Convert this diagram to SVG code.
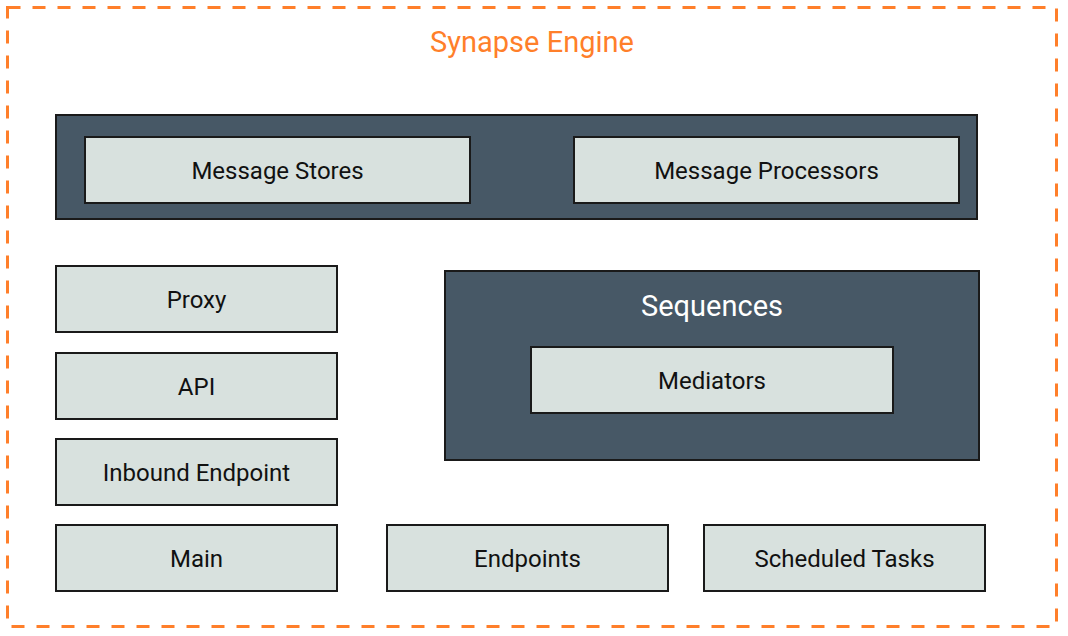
<svg xmlns="http://www.w3.org/2000/svg" width="1068" height="636" viewBox="0 0 1068 636">
<style>
.dark{fill:#475866;stroke:#1a1a1a;stroke-width:2}
.box{fill:#d8e1de;stroke:#1a1a1a;stroke-width:2}
.t{font-family:Roboto,"Liberation Sans",sans-serif;font-size:24px;fill:#111;text-anchor:middle;dominant-baseline:central}
.w{font-family:Roboto,"Liberation Sans",sans-serif;font-size:29px;fill:#fff;text-anchor:middle;dominant-baseline:central}
</style>
<rect width="1068" height="636" fill="#fff"/>
<g id="engine">
<rect x="7.5" y="7.5" width="1049" height="619" fill="none" stroke="#ff7f2a" stroke-width="3" stroke-dasharray="13,12"/>
<text x="532" y="42" font-family="Roboto,'Liberation Sans',sans-serif" font-size="29" fill="#ff7f2a" text-anchor="middle" dominant-baseline="central">Synapse Engine</text>
</g>
<g id="messaging">
<rect class="dark" x="56" y="115" width="921" height="104"/>
</g>
<g id="message-stores"><rect class="box" x="85" y="137" width="385" height="66"/><text class="t" x="277.5" y="171">Message Stores</text></g>
<g id="message-processors"><rect class="box" x="574" y="137" width="385" height="66"/><text class="t" x="766.5" y="171">Message Processors</text></g>
<g id="proxy"><rect class="box" x="56" y="266" width="281" height="66"/><text class="t" x="196.5" y="300">Proxy</text></g>
<g id="api"><rect class="box" x="56" y="353" width="281" height="66"/><text class="t" x="196.5" y="387">API</text></g>
<g id="inbound"><rect class="box" x="56" y="439" width="281" height="66"/><text class="t" x="196.5" y="473">Inbound Endpoint</text></g>
<g id="main"><rect class="box" x="56" y="525" width="281" height="66"/><text class="t" x="196.5" y="559">Main</text></g>
<g id="endpoints"><rect class="box" x="387" y="525" width="281" height="66"/><text class="t" x="527.5" y="559">Endpoints</text></g>
<g id="scheduled-tasks"><rect class="box" x="704" y="525" width="281" height="66"/><text class="t" x="844.5" y="559">Scheduled Tasks</text></g>
<g id="sequences">
<rect class="dark" x="445" y="271" width="534" height="189"/>
<text class="w" x="712" y="306">Sequences</text>
</g>
<g id="mediators"><rect class="box" x="531" y="347" width="362" height="66"/><text class="t" x="712" y="381">Mediators</text></g>
<g id="connectors"/>
</svg>
